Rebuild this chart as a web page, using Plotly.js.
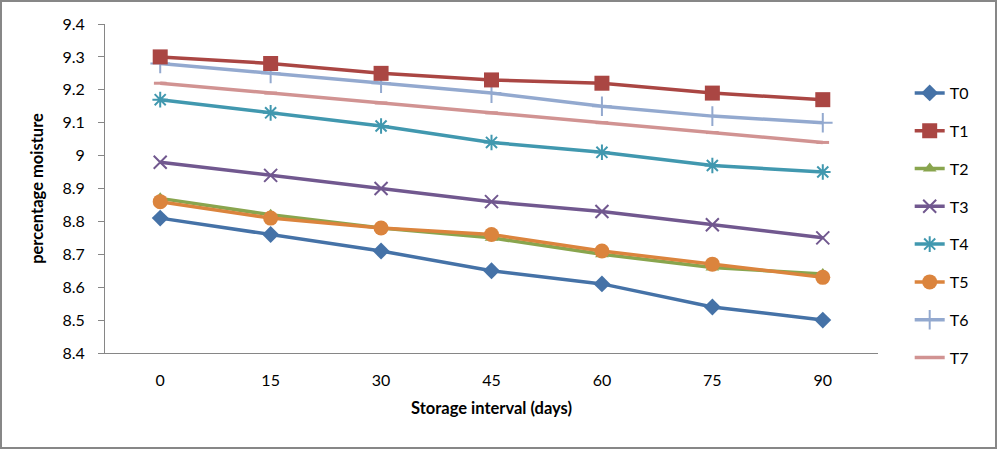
<!DOCTYPE html>
<html>
<head>
<meta charset="utf-8">
<script src="https://cdn.plot.ly/plotly-3.0.1.min.js"></script>
<style>
  html, body { margin: 0; padding: 0; background: #ffffff; }
  #frame { width: 997px; height: 449px; box-sizing: border-box; border: 2px solid #878787; }
  #chart { width: 993px; height: 445px; }
</style>
</head>
<body>
<div id="frame"><div id="chart"></div></div>
<script>
// Storage interval (days)
const days = [0, 15, 30, 45, 60, 75, 90];
const xTickLabels = ['0', '15', '30', '45', '60', '75', '90'];
const yTickVals = [8.4, 8.5, 8.6, 8.7, 8.8, 8.9, 9.0, 9.1, 9.2, 9.3, 9.4];
const yTickLabels = ['8.4', '8.5', '8.6', '8.7', '8.8', '8.9', '9', '9.1', '9.2', '9.3', '9.4'];

// Percentage moisture per treatment
const T0 = [8.81, 8.76, 8.71, 8.65, 8.61, 8.54, 8.50];
const T1 = [9.30, 9.28, 9.25, 9.23, 9.22, 9.19, 9.17];
const T2 = [8.87, 8.82, 8.78, 8.75, 8.70, 8.66, 8.64];
const T3 = [8.98, 8.94, 8.90, 8.86, 8.83, 8.79, 8.75];
const T4 = [9.17, 9.13, 9.09, 9.04, 9.01, 8.97, 8.95];
const T5 = [8.86, 8.81, 8.78, 8.76, 8.71, 8.67, 8.63];
const T6 = [9.28, 9.25, 9.22, 9.19, 9.15, 9.12, 9.10];
const T7 = [9.22, 9.19, 9.16, 9.13, 9.10, 9.07, 9.04];

const seriesNames = ['T0', 'T1', 'T2', 'T3', 'T4', 'T5', 'T6', 'T7'];
const seriesValues = [T0, T1, T2, T3, T4, T5, T6, T7];

// Line colours and marker styles for each treatment
const styles = [
  { color: '#4572A7', symbol: 'diamond', size: 13, lw: 0 },
  { color: '#AA4643', symbol: 'square', size: 15, lw: 0 },
  { color: '#89A54E', symbol: 'triangle-up', size: 12, lw: 0 },
  { color: '#71588F', symbol: 'x-thin-open', size: 13, lw: 2 },
  { color: '#4198AF', symbol: 'asterisk-open', size: 13, lw: 2 },
  { color: '#DB843D', symbol: 'circle', size: 15, lw: 0 },
  { color: '#93A9CF', symbol: 'cross-thin-open', size: 14, lw: 2 },
  { color: '#D19392', symbol: 'line-ew-open', size: 9, lw: 3 }
];

const traces = seriesNames.map((name, i) => ({
  type: 'scatter',
  mode: 'lines+markers',
  name: name,
  legendgroup: 'g' + i,
  legendrank: i + 1,
  x: days,
  y: seriesValues[i],
  line: { color: styles[i].color, width: 3.5 },
  marker: {
    symbol: styles[i].symbol,
    size: styles[i].size,
    color: styles[i].color,
    line: { color: styles[i].color, width: styles[i].lw }
  }
}));

// Draw order: later traces sit on top
const order = [7, 6, 4, 3, 1, 0, 2, 5];
const data = order.map(i => traces[i]);

const font = 'Lato, "Open Sans", sans-serif';

const layout = {
  width: 993,
  height: 445,
  margin: { l: 103, r: 117, t: 22, b: 94 },
  paper_bgcolor: '#ffffff',
  plot_bgcolor: '#ffffff',
  font: { family: font, size: 16, color: '#000000' },
  showlegend: true,
  legend: {
    x: 1.041, xanchor: 'left',
    y: 0.842, yanchor: 'top',
    traceorder: 'grouped',
    tracegroupgap: 14,
    font: { family: font, size: 16, color: '#000000' },
    bgcolor: 'rgba(0,0,0,0)',
    borderwidth: 0
  },
  xaxis: {
    range: [-7.5, 97.5],
    tickmode: 'array',
    tickvals: days,
    ticktext: xTickLabels,
    showgrid: false,
    zeroline: false,
    showline: true,
    linecolor: '#868686',
    linewidth: 1,
    ticks: '',
    ticklabelstandoff: 13,
    tickfont: { family: font, size: 16 },
    title: { text: 'Storage interval (days)', font: { family: font, size: 16.5, weight: 'bold' }, standoff: 14 }
  },
  yaxis: {
    range: [8.4, 9.4],
    tickmode: 'array',
    tickvals: yTickVals,
    ticktext: yTickLabels,
    showgrid: false,
    zeroline: false,
    showline: true,
    linecolor: '#868686',
    linewidth: 1,
    ticks: 'outside',
    ticklen: 6,
    tickcolor: '#868686',
    ticklabelstandoff: 10,
    tickfont: { family: font, size: 16 },
    title: { text: 'percentage moisture', font: { family: font, size: 16.5, weight: 'bold' }, standoff: 14 }
  }
};

Plotly.newPlot('chart', data, layout, { displayModeBar: false, staticPlot: true });
</script>
</body>
</html>
